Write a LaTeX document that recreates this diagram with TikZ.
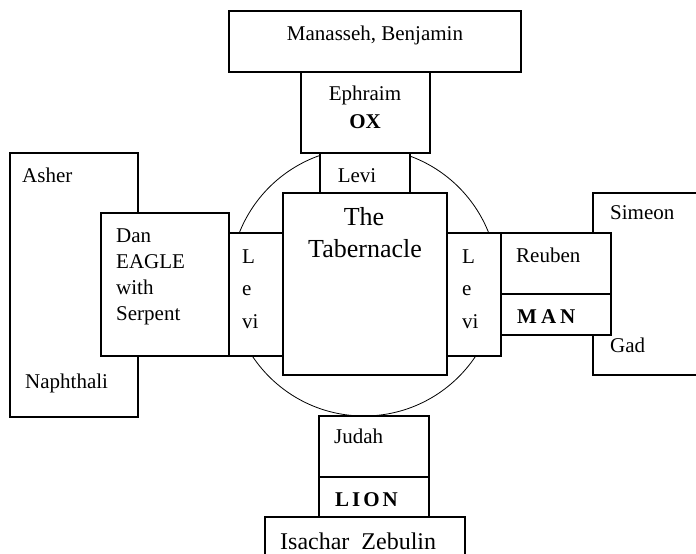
\documentclass[tikz,border=0pt]{standalone}
\usepackage{fontspec}
\setmainfont{Liberation Serif}

\begin{document}
\begin{tikzpicture}[x=1pt, y=-1pt,
  box/.style={draw, fill=white, line width=1.2pt, inner sep=0pt, outer sep=0pt, anchor=north west},
  txt/.style={anchor=base west, inner sep=0pt, font=\fontsize{21}{25}\selectfont},
  ctxt/.style={txt, anchor=base},
  heavy/.style={font=\fontsize{21}{25}\selectfont\bfseries}]
  \useasboundingbox (0,0) rectangle (696,554);
  \clip (0,0) rectangle (696,554);
  \draw[line width=0.8pt] (364,282) circle[radius=134pt];
  % north
  \node[box, minimum width=292pt, minimum height=61pt] (manasseh) at (229,11) {};
  \node[box, minimum width=129pt, minimum height=81pt] (ephraim) at (301,72) {};
  \node[box, minimum width=90pt, minimum height=40pt] (levitop) at (320,153) {};
  % west
  \node[box, minimum width=128pt, minimum height=264pt] (asher) at (10,153) {};
  \node[box, minimum width=128pt, minimum height=143pt] (dan) at (101,213) {};
  \node[box, minimum width=54pt, minimum height=123pt] (levileft) at (229,233) {};
  % centre
  \node[box, minimum width=164pt, minimum height=182pt] (tabernacle) at (283,193) {};
  % east
  \node[box, minimum width=54pt, minimum height=123pt] (leviright) at (447,233) {};
  \node[box, minimum width=130pt, minimum height=182pt] (simeon) at (593,193) {};
  \node[box, minimum width=110pt, minimum height=61pt] (reuben) at (501,233) {};
  \node[box, minimum width=110pt, minimum height=41pt] (man) at (501,294) {};
  % south
  \node[box, minimum width=110pt, minimum height=61pt] (judah) at (319,416) {};
  \node[box, minimum width=110pt, minimum height=40pt] (lion) at (319,477) {};
  \node[box, minimum width=200pt, minimum height=60pt] (isachar) at (265,517) {};
  \draw[line width=2.5pt] ([yshift=3pt]dan.east) -- ([yshift=-3pt]dan.east);

  % labels
  \node[ctxt] (manassehtxt) at (375,40) {Manasseh, Benjamin};
  \node[ctxt] (ephraimtxt) at (365,100) {Ephraim};
  \node[ctxt, heavy] (oxtxt) at (365,128) {OX};
  \node[ctxt] (levitoptxt) at (357,182) {Levi};
  \node[txt] (ashertxt) at (22,182) {Asher};
  \node[txt] (naphthalitxt) at (25,388) {Naphthali};
  \foreach \word [count=\i] in {Dan, EAGLE, with, Serpent}
    \node[txt] (dantxt\i) at (116,216+26*\i) {\word};
  \foreach \word [count=\i] in {L, e, vi} {
    \node[txt] (levilefttxt\i) at (242,230.5+32.5*\i) {\word};
    \node[txt] (levirighttxt\i) at (462,230.5+32.5*\i) {\word};
  }
  \node[ctxt, font=\fontsize{26}{30}\selectfont] (thetxt) at (364,225) {The};
  \node[ctxt, font=\fontsize{26}{30}\selectfont] (tabernacletxt) at (365,257) {Tabernacle};
  \node[txt] (reubentxt) at (516,262) {Reuben};
  \node[txt, heavy] (mantxt) at (517,323) {M\kern4pt A\kern4pt N};
  \node[txt] (simeontxt) at (610,219) {Simeon};
  \node[txt] (gadtxt) at (610,352) {Gad};
  \node[txt] (judahtxt) at (334,443) {Judah};
  \node[txt, heavy] (liontxt) at (335,506) {L\kern3pt I\kern3pt O\kern3pt N};
  \node[txt, font=\fontsize{24}{28}\selectfont] (isachartxt) at (280,549) {Isachar\hspace{12pt}Zebulin};
\end{tikzpicture}
\end{document}
